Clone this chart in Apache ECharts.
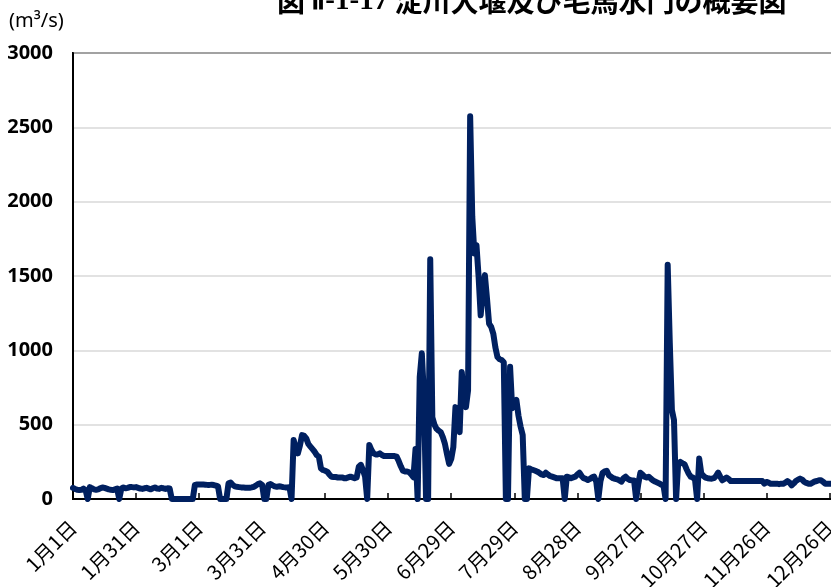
<!DOCTYPE html>
<html>
<head>
<meta charset="utf-8">
<script src="https://cdn.jsdelivr.net/npm/echarts@6/dist/echarts.min.js"></script>
<style>
html,body{margin:0;padding:0;background:#fff;}
#chart{width:831px;height:587px;}
</style>
</head>
<body>
<div id="chart"></div>
<script>
// Leap year daily categories (Jan 1 .. Dec 31)
var monthDays = [31, 29, 31, 30, 31, 30, 31, 31, 30, 31, 30, 31];
var categories = [];
for (var m = 0; m < 12; m++) {
  for (var d = 1; d <= monthDays[m]; d++) categories.push((m + 1) + '月' + d + '日');
}

// Daily flow (m3/s)
var flowJanApr = [
  75, 68, 62, 60, 62, 70, 60, 0, 80, 72, 65, 62, 65, 72, 78, 75, 70, 65, 62, 60, 65, 70, 0,
  70, 78, 72, 75, 80, 80, 78, 80, 75, 70, 68, 72, 75, 70, 65, 72, 78, 70, 68, 75, 72, 68, 72, 70,
  0, 0, 0, 0, 0, 0, 0, 0, 0, 0, 0,
  95, 97, 98, 98, 97, 96, 95, 95, 96, 94, 90, 85,
  0, 0, 0, 0,
  105, 110, 95, 85, 82, 80, 78, 78, 76, 75, 75, 78, 82, 90, 100, 105, 95,
  0, 0,
  95, 100, 92, 85, 82, 85, 84, 80, 78, 78, 80,
  0
];
var flowAprJun = [
  397, 340, 307, 360, 430, 425, 408, 370, 352, 335, 318, 295, 285, 206, 195, 190, 184, 165, 150,
  148, 148, 145, 145, 145, 140, 140, 145, 150, 145, 140, 145, 217, 230, 195, 150, 0,
  363, 330, 307, 300, 300, 307, 296, 289, 289, 289, 289, 289, 289, 285, 255, 220, 190, 185, 185,
  180, 165, 146, 337,
  0, 820, 980, 700, 0, 0, 1612
];
var flowJulAug = [
  550, 500, 472, 460, 450, 416, 370, 300, 236, 270, 350, 618, 520, 450, 854, 700, 618, 730,
  2574, 1900, 1652, 1708, 1500, 1236, 1400, 1506, 1350, 1180, 1158, 1113, 1020, 955, 940, 935, 920,
  0, 0,
  890, 610, 640, 666, 560, 487, 430,
  0, 0,
  206, 200, 195, 190, 184, 175, 165, 161, 177, 165, 155, 150, 145, 140, 140, 140, 140,
  0,
  150, 145, 140, 145, 150, 165, 177, 155, 140, 135, 128, 135, 145, 150, 117,
  0
];
var flowSepDec = [
  120, 175, 185, 189, 160, 150, 140, 135, 132, 125, 117, 140, 150, 135, 128, 125, 124,
  0,
  100, 177, 165, 150, 144, 150, 137, 125, 117, 111, 105, 96, 90,
  0,
  1575, 1050, 600, 531,
  0,
  240, 250, 240, 234, 200, 171, 150, 144, 130,
  0,
  272, 171, 155, 144, 140, 138, 137, 140, 155, 178, 150, 126, 135, 144, 135, 121,
  121, 121, 121, 121, 121, 121, 121, 121, 121, 121, 121, 121, 121, 121, 121,
  103, 115, 110, 103, 103, 103, 103, 100, 103, 103, 110, 121, 110, 92, 105, 121, 130, 137, 130,
  115, 108, 103, 103, 110, 118, 121, 126, 126, 115, 103, 103, 103, 103, 103, 103, 103, 103
];
var flow = flowJanApr.concat(flowAprJun, flowJulAug, flowSepDec);

var yTicks = { min: 0, max: 3000, step: 500 };
var titleLead = '図 ';
var titleNum = 'Ⅱ-1-17';
var titleMain = ' 淀川大堰及び毛馬水門の概要図';
var unitText = '(m³/s)';

var chart = echarts.init(document.getElementById('chart'), null, { renderer: 'canvas' });
chart.setOption({
  animation: false,
  backgroundColor: '#fff',
  graphic: [
    {
      type: 'text', left: 277, top: -13,
      style: {
        text: '{a|' + titleLead + '}{b|' + titleNum + '}{a|' + titleMain + '}',
        rich: {
          a: { fontFamily: '"Noto Sans CJK JP"', fontSize: 28, fontWeight: 'bold', fill: '#000', color: '#000' },
          b: { fontFamily: '"Liberation Serif"', fontSize: 29, fontWeight: 'bold', fill: '#000', color: '#000' }
        }
      }
    },
    { type: 'text', left: 9, top: 11, style: { text: unitText, font: '20px "Noto Sans"', fill: '#000' } }
  ],
  grid: { left: 73, top: 53, right: -9, bottom: 88, show: true, borderColor: '#000', borderWidth: 2, containLabel: false, outerBoundsMode: 'none' },
  xAxis: {
    type: 'category',
    data: categories,
    boundaryGap: false,
    axisLine: { lineStyle: { color: '#000', width: 2 } },
    axisTick: { show: true, inside: true, length: 6, interval: 29, lineStyle: { color: '#000', width: 1.5 } },
    axisLabel: { interval: 29, rotate: 45, fontSize: 20, color: '#000', margin: 25, fontFamily: '"Noto Sans CJK JP"' },
    splitLine: { show: false }
  },
  yAxis: {
    type: 'value',
    min: yTicks.min, max: yTicks.max, interval: yTicks.step,
    axisLine: { show: true, lineStyle: { color: '#000', width: 2 } },
    axisTick: { show: false },
    axisLabel: {
      fontSize: 20, color: '#000', margin: 20, fontFamily: '"Noto Sans"', fontWeight: 'bold',
      formatter: function (v) { return String(v); }
    },
    splitLine: { lineStyle: { color: '#d9d9d9', width: 1.5 } }
  },
  series: [{
    type: 'line',
    data: flow,
    showSymbol: false,
    lineStyle: { color: '#002060', width: 6, join: 'round', cap: 'round' },
    z: 3
  }]
});
</script>
</body>
</html>
